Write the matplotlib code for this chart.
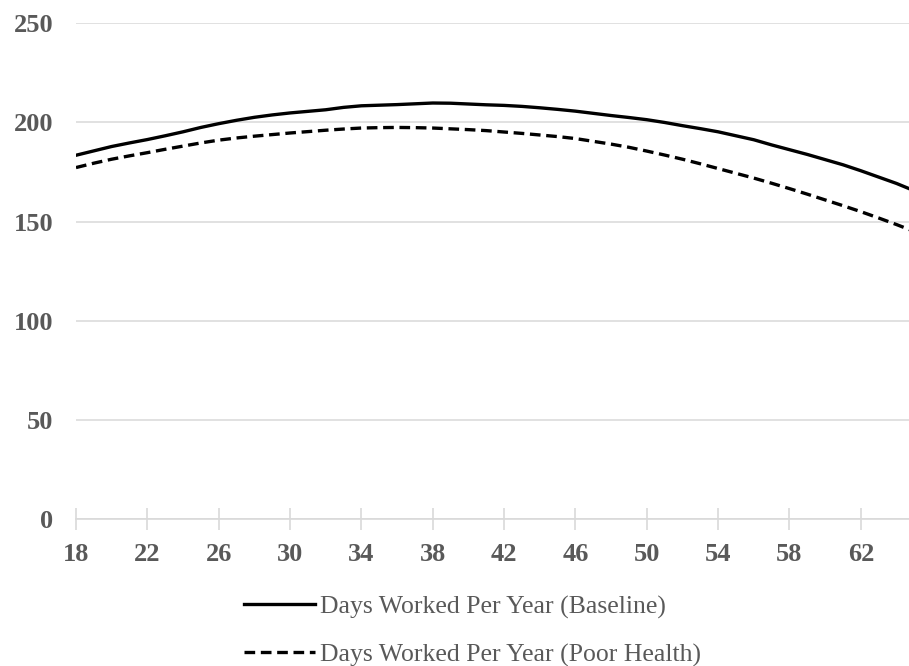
import matplotlib.pyplot as plt

# age in years and days worked per year under each scenario
ages = list(range(18, 66))
baseline = [183.4, 185.6, 187.8, 189.6, 191.3, 193.2, 195.2, 197.4, 199.3, 201.0,
            202.5, 203.7, 204.7, 205.5, 206.3, 207.5, 208.3, 208.6, 208.9, 209.3,
            209.7, 209.6, 209.2, 208.8, 208.5, 208.0, 207.3, 206.5, 205.6, 204.5,
            203.4, 202.4, 201.3, 199.9, 198.3, 196.8, 195.2, 193.2, 191.2, 188.6,
            186.2, 183.8, 181.2, 178.6, 175.6, 172.4, 169.2, 165.5]
poor_health = [177.2, 179.4, 181.4, 183.1, 184.7, 186.4, 188.0, 189.6, 191.0, 192.1,
               193.0, 193.8, 194.6, 195.3, 196.0, 196.6, 197.1, 197.3, 197.4, 197.3,
               197.1, 196.7, 196.3, 195.8, 195.1, 194.4, 193.6, 192.8, 191.8, 190.4,
               189.0, 187.4, 185.5, 183.5, 181.4, 179.1, 176.7, 174.3, 171.9, 169.3,
               166.6, 163.8, 160.9, 158.0, 155.0, 151.8, 148.5, 145.0]
x_ticks = list(range(18, 63, 4))
y_ticks = [0, 50, 100, 150, 200, 250]

plt.rcParams['font.family'] = ['Liberation Serif', 'DejaVu Serif']

fig = plt.figure(figsize=(9.09, 6.66), dpi=100)
ax = fig.add_axes([0.0836, 0.22, 0.9164, 0.7455])

ax.plot(ages, baseline, color='black', lw=2.4, label='Days Worked Per Year (Baseline)')
ax.plot(ages, poor_health, color='black', lw=2.4, linestyle=(0, (3.2, 1.7)),
        label='Days Worked Per Year (Poor Health)')

ax.set_xlim(18, 64.7)
ax.set_ylim(0, 250)
ax.set_xticks(x_ticks)
ax.set_yticks(y_ticks)

for s in ['top', 'right', 'left']:
    ax.spines[s].set_visible(False)
ax.spines['bottom'].set_color('#d9d9d9')
ax.spines['bottom'].set_linewidth(1.2)
ax.yaxis.grid(True, color='#d9d9d9', lw=1.1)
ax.set_axisbelow(True)

ax.tick_params(axis='y', length=0, pad=16.5, labelsize=19, labelcolor='#595959')
ax.tick_params(axis='x', direction='inout', length=16, width=1.2, color='#d9d9d9',
               pad=9, labelsize=19, labelcolor='#595959')
for lbl in ax.get_xticklabels() + ax.get_yticklabels():
    lbl.set_fontweight('bold')

leg = fig.legend(loc='center left', bbox_to_anchor=(231 / 909, 0.0525), ncol=1,
                 frameon=False, borderpad=0, fontsize=18.5, handlelength=2.75,
                 handletextpad=0.2, labelspacing=0.95)
for t in leg.get_texts():
    t.set_color('#595959')

fig.savefig('out.png', dpi=100)
